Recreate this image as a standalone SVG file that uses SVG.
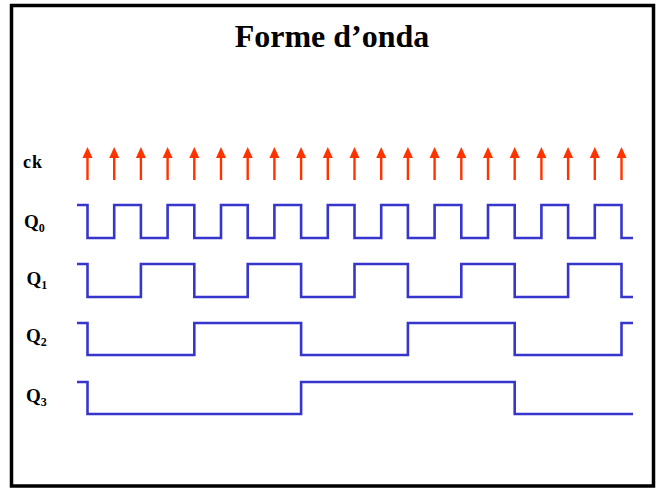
<svg xmlns="http://www.w3.org/2000/svg" width="656" height="488" viewBox="0 0 656 488">
  <defs>
    <!-- clock edge arrow: tip at origin -->
    <g id="clk">
      <path d="M0,0 L-5,11 L5,11 Z" fill="#ff3300"/>
      <line x1="0" y1="9" x2="0" y2="33" stroke="#ff3300" stroke-width="2.4"/>
    </g>
  </defs>
  <style>
    .lbl { font-family: "Liberation Serif", "Times New Roman", serif; font-weight: bold; font-size: 19px; fill: #000; }
    .ck { font-size: 18px; letter-spacing: 1px; }
    .sub { font-size: 12px; }
    .title { font-family: "Liberation Serif", "Times New Roman", serif; font-weight: bold; font-size: 32px; fill: #000; }
    .wave { fill: none; stroke: #3636cc; stroke-width: 2.6; stroke-linejoin: miter; }
  </style>

  <rect x="11.5" y="5.5" width="642" height="480.5" fill="#fff" stroke="#000" stroke-width="3.5"/>

  <text class="title" x="332" y="47" text-anchor="middle">Forme d’onda</text>

  <!-- signal labels -->
  <g id="labels">
    <text class="lbl ck" x="23" y="168">ck</text>
    <text class="lbl" x="24" y="228">Q<tspan class="sub" dy="4">0</tspan></text>
    <text class="lbl" x="26.5" y="285">Q<tspan class="sub" dy="4">1</tspan></text>
    <text class="lbl" x="26" y="342">Q<tspan class="sub" dy="4">2</tspan></text>
    <text class="lbl" x="26" y="402">Q<tspan class="sub" dy="4">3</tspan></text>
  </g>

  <!-- clock rising edges, period 26.7 -->
  <g id="ck">
    <use href="#clk" x="87.5" y="147"/>
    <use href="#clk" x="114.2" y="147"/>
    <use href="#clk" x="140.9" y="147"/>
    <use href="#clk" x="167.6" y="147"/>
    <use href="#clk" x="194.3" y="147"/>
    <use href="#clk" x="221" y="147"/>
    <use href="#clk" x="247.7" y="147"/>
    <use href="#clk" x="274.4" y="147"/>
    <use href="#clk" x="301.1" y="147"/>
    <use href="#clk" x="327.8" y="147"/>
    <use href="#clk" x="354.5" y="147"/>
    <use href="#clk" x="381.2" y="147"/>
    <use href="#clk" x="407.9" y="147"/>
    <use href="#clk" x="434.6" y="147"/>
    <use href="#clk" x="461.3" y="147"/>
    <use href="#clk" x="488" y="147"/>
    <use href="#clk" x="514.7" y="147"/>
    <use href="#clk" x="541.4" y="147"/>
    <use href="#clk" x="568.1" y="147"/>
    <use href="#clk" x="594.8" y="147"/>
    <use href="#clk" x="621.5" y="147"/>
  </g>

  <!-- Q0 toggles every edge -->
  <g id="q0">
    <path class="wave" d="M77,205 H87.5 V238 H114.2 V205 H140.9 V238 H167.6 V205 H194.3 V238 H221 V205 H247.7 V238 H274.4 V205 H301.1 V238 H327.8 V205 H354.5 V238 H381.2 V205 H407.9 V238 H434.6 V205 H461.3 V238 H488 V205 H514.7 V238 H541.4 V205 H568.1 V238 H594.8 V205 H621.5 V238 H633"/>
  </g>

  <!-- Q1 toggles every 2 edges -->
  <g id="q1">
    <path class="wave" d="M77,264 H87.5 V297 H140.9 V264 H194.3 V297 H247.7 V264 H301.1 V297 H354.5 V264 H407.9 V297 H461.3 V264 H514.7 V297 H568.1 V264 H621.5 V297 H633"/>
  </g>

  <!-- Q2 toggles every 4 edges -->
  <g id="q2">
    <path class="wave" d="M77,323 H87.5 V355 H194.3 V323 H301.1 V355 H407.9 V323 H514.7 V355 H621.5 V323 H633"/>
  </g>

  <!-- Q3 toggles every 8 edges -->
  <g id="q3">
    <path class="wave" d="M77,382 H87.5 V414 H301.1 V382 H514.7 V414 H633"/>
  </g>
</svg>
